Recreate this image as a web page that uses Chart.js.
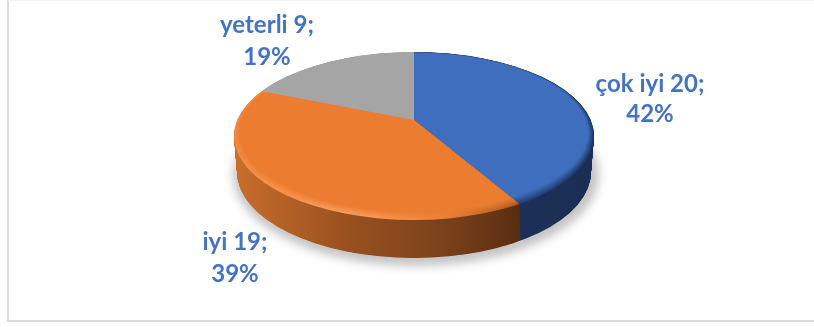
<!DOCTYPE html>
<html lang="tr">
<head>
<meta charset="UTF-8" />
<title>Pasta grafik</title>
<script src="https://cdn.jsdelivr.net/npm/chart.js@4/dist/chart.umd.js"></script>
<style>
  html, body { margin: 0; background: #fff; }
  #wrap { position: relative; width: 814px; height: 327px; overflow: hidden; }
  #frame { position: absolute; left: 7px; top: 0; width: 820px; height: 322px; box-sizing: border-box; border-left: 2px solid #dcdcdc; border-bottom: 2px solid #dcdcdc; border-top: 1px solid #f3f3f3; }
  canvas { position: absolute; left: 0; top: 0; }
</style>
</head>
<body>
<div id="wrap">
  <div id="frame"></div>
  <canvas id="pie" width="814" height="327"></canvas>
</div>

<script>
const categories = ["çok iyi", "iyi", "yeterli"];
const counts = [20, 19, 9];
const percents = [42, 39, 19];

const faceColors = ["#3F6EBE", "#EB7C30", "#A5A5A5"];
const textColor = "#4472C4";
const labelAnchors = [[650, 92, 122], [235, 250, 282], [267, 33, 65]]; // x, baseline 1, baseline 2

// ellipse of the top face and of the bottom rim, relative to the pie centre
const tilt = 0.46;
const topFace = { dy: 16, rx: 180, ry: 84 };
const depth = 36;
const bottomRim = { dy: 52, rx: 177, ry: 86 };

// side wall and bevel shades as [x, colour] stops along the canvas width
const wallStops = [
  [[519, "#1C3057"], [594, "#1A2D52"]],
  [[236, "#C96E2C"], [340, "#9C5220"], [450, "#78401A"], [519, "#5A2D10"]],
  [[236, "#8A8A8A"], [594, "#8A8A8A"]],
];
const bevelStops = [
  [[510, "#23417A"], [594, "#1D3563"]],
  [[236, "#F48B42"], [350, "#FB9F5E"], [440, "#EE8238"], [519, "#A8591F"]],
  [[236, "#A5A5A5"], [594, "#A5A5A5"]],
];

function hexToRgb(hex) {
  return [1, 3, 5].map((i) => parseInt(hex.slice(i, i + 2), 16));
}

function mix(a, b, t) {
  const ca = hexToRgb(a);
  const cb = hexToRgb(b);
  return "rgb(" + ca.map((v, i) => Math.round(v + (cb[i] - v) * t)).join(",") + ")";
}

function hGradient(ctx, stops, fade, base) {
  const x0 = stops[0][0];
  const x1 = stops[stops.length - 1][0];
  const g = ctx.createLinearGradient(x0, 0, x1, 0);
  stops.forEach(([x, c]) => {
    g.addColorStop((x - x0) / (x1 - x0), base ? mix(c, base, fade) : c);
  });
  return g;
}

function clipEllipse(ctx, cx, cy, rx, ry) {
  ctx.beginPath();
  ctx.ellipse(cx, cy, rx, ry, 0, 0, Math.PI * 2);
  ctx.clip();
}

// draws one slice through the arc element, squashed by the tilt and moved down by dy
function drawSlice(ctx, arc, fill, dy) {
  const shade = Object.create(arc);
  shade.options = { ...arc.options, backgroundColor: fill, borderWidth: 0 };
  ctx.save();
  ctx.translate(arc.x, arc.y + dy);
  ctx.scale(1, tilt);
  ctx.translate(-arc.x, -arc.y);
  shade.draw(ctx);
  ctx.restore();
}

const pie3d = {
  id: "pie3d",
  beforeDatasetsDraw(chart) {
    const ctx = chart.ctx;
    const arcs = chart.getDatasetMeta(0).data;
    const cx = arcs[0].x;
    const cy = arcs[0].y;

    // soft shadow on the floor
    ctx.save();
    ctx.filter = "blur(5px)";
    ctx.fillStyle = "#c4c4c4";
    ctx.beginPath();
    ctx.ellipse(cx + 2, cy + bottomRim.dy + 3, bottomRim.rx + 6, bottomRim.ry + 5, 0, 0, Math.PI * 2);
    ctx.fill();
    ctx.restore();

    // side wall, stacked from the bottom rim upwards
    for (let d = depth; d > 0; d -= 0.5) {
      const t = d / depth;
      ctx.save();
      clipEllipse(ctx, cx, cy + topFace.dy + (bottomRim.dy - topFace.dy) * t,
        topFace.rx + (bottomRim.rx - topFace.rx) * t, topFace.ry + (bottomRim.ry - topFace.ry) * t);
      arcs.forEach((arc, i) => drawSlice(ctx, arc, hGradient(ctx, wallStops[i]), d));
      ctx.restore();
    }

    // top face, bevel shade fading into the flat colour towards the inside
    const steps = 9;
    for (let k = 0; k <= steps; k++) {
      ctx.save();
      clipEllipse(ctx, cx, cy + topFace.dy - k * 0.4, topFace.rx - k * 0.65, topFace.ry - k * 0.5);
      arcs.forEach((arc, i) => {
        const fill = k === steps ? faceColors[i] : hGradient(ctx, bevelStops[i], k / steps, faceColors[i]);
        drawSlice(ctx, arc, fill, 0);
      });
      ctx.restore();
    }
    return false;
  },
  afterDraw(chart) {
    const ctx = chart.ctx;
    ctx.save();
    ctx.font = "bold 24px Lato, Carlito, sans-serif";
    ctx.fillStyle = textColor;
    ctx.textAlign = "center";
    categories.forEach((name, i) => {
      const [x, y1, y2] = labelAnchors[i];
      ctx.fillText(name + " " + counts[i] + ";", x, y1);
      ctx.fillText(percents[i] + "%", x, y2);
    });
    ctx.restore();
  },
};

new Chart(document.getElementById("pie"), {
  type: "pie",
  data: {
    labels: categories,
    datasets: [{ data: counts, backgroundColor: faceColors, borderWidth: 0 }],
  },
  options: {
    responsive: false,
    animation: false,
    events: [],
    radius: 240,
    layout: { padding: { left: 14, bottom: 87 } },
    plugins: { legend: { display: false }, tooltip: { enabled: false } },
  },
  plugins: [pie3d],
});
</script>
</body>
</html>
